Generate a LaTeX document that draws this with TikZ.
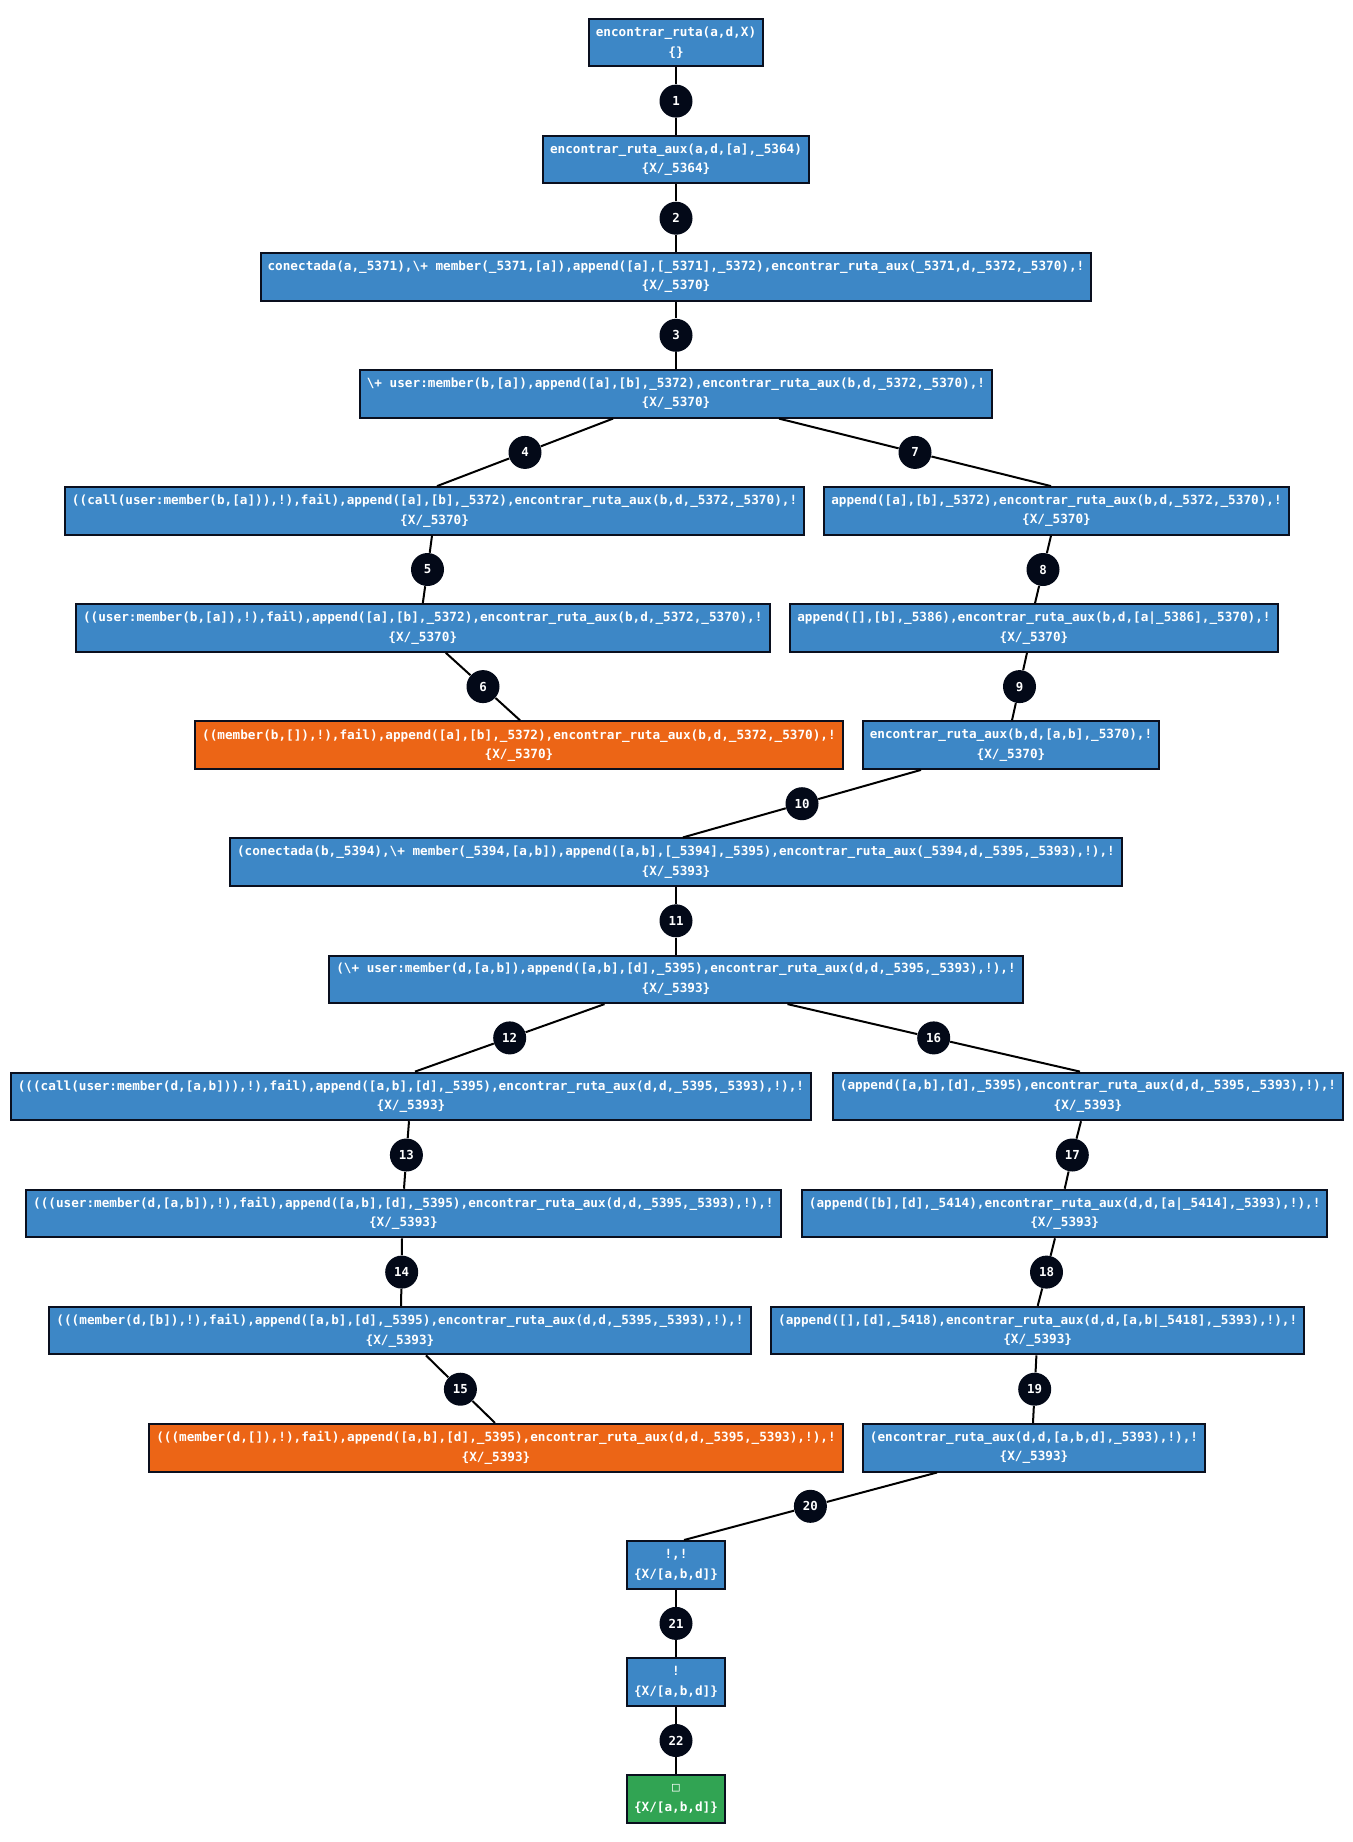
\documentclass[tikz,border=0pt]{standalone}
\usepackage{fontspec}
\setmonofont{DejaVu Sans Mono}
\usetikzlibrary{calc}

\definecolor{boxblue}{HTML}{3D87C6}
\definecolor{boxorange}{HTML}{EC6516}
\definecolor{boxgreen}{HTML}{31A453}
\definecolor{stepfill}{HTML}{030918}
\definecolor{frameline}{HTML}{0A0F1E}

\newcommand{\treefont}{\ttfamily\bfseries\fontsize{6.34pt}{9.75pt}\selectfont}
\newcommand{\stepfont}{\ttfamily\bfseries\fontsize{6.2pt}{7pt}\selectfont}

\begin{document}
\begin{tikzpicture}[x=0.5pt,y=-0.5pt,
  goal/.style={draw=frameline, line width=1pt, fill=boxblue, text=white,
    font=\treefont, align=center, inner xsep=3.5pt, inner ysep=0pt,
    minimum height=23.8pt},
  failgoal/.style={goal, fill=boxorange},
  donegoal/.style={goal, fill=boxgreen},
  stepnum/.style={circle, fill=stepfill, text=white, font=\stepfont,
    inner sep=0pt, minimum size=16.5pt},
  link/.style={draw=black, line width=1pt}]

\fill[white] (0,0) rectangle (1353,1842);
\useasboundingbox (0,0) rectangle (1353,1842);

% resolution goals
\node[goal] (n0) at (676,42.5) {encontrar\_ruta(a,d,X)\\\{\}};
\node[goal] (n1) at (676,159.6) {encontrar\_ruta\_aux(a,d,[a],\_5364)\\\{X/\_5364\}};
\node[goal] (n2) at (676,276.7) {conectada(a,\_5371),\textbackslash+ member(\_5371,[a]),append([a],[\_5371],\_5372),encontrar\_ruta\_aux(\_5371,d,\_5372,\_5370),!\\\{X/\_5370\}};
\node[goal] (n3) at (676,393.8) {\textbackslash+ user:member(b,[a]),append([a],[b],\_5372),encontrar\_ruta\_aux(b,d,\_5372,\_5370),!\\\{X/\_5370\}};
\node[goal] (n4l) at (434.6,510.9) {((call(user:member(b,[a])),!),fail),append([a],[b],\_5372),encontrar\_ruta\_aux(b,d,\_5372,\_5370),!\\\{X/\_5370\}};
\node[goal] (n4r) at (1056.5,510.9) {append([a],[b],\_5372),encontrar\_ruta\_aux(b,d,\_5372,\_5370),!\\\{X/\_5370\}};
\node[goal] (n5l) at (422.8,628) {((user:member(b,[a]),!),fail),append([a],[b],\_5372),encontrar\_ruta\_aux(b,d,\_5372,\_5370),!\\\{X/\_5370\}};
\node[goal] (n5r) at (1034,628) {append([],[b],\_5386),encontrar\_ruta\_aux(b,d,[a|\_5386],\_5370),!\\\{X/\_5370\}};
\node[failgoal] (n6l) at (519,745.1) {((member(b,[]),!),fail),append([a],[b],\_5372),encontrar\_ruta\_aux(b,d,\_5372,\_5370),!\\\{X/\_5370\}};
\node[goal] (n6r) at (1011,745.1) {encontrar\_ruta\_aux(b,d,[a,b],\_5370),!\\\{X/\_5370\}};
\node[goal] (n7) at (676,862.2) {(conectada(b,\_5394),\textbackslash+ member(\_5394,[a,b]),append([a,b],[\_5394],\_5395),encontrar\_ruta\_aux(\_5394,d,\_5395,\_5393),!),!\\\{X/\_5393\}};
\node[goal] (n8) at (676,979.3) {(\textbackslash+ user:member(d,[a,b]),append([a,b],[d],\_5395),encontrar\_ruta\_aux(d,d,\_5395,\_5393),!),!\\\{X/\_5393\}};
\node[goal] (n9l) at (411,1096.4) {(((call(user:member(d,[a,b])),!),fail),append([a,b],[d],\_5395),encontrar\_ruta\_aux(d,d,\_5395,\_5393),!),!\\\{X/\_5393\}};
\node[goal] (n9r) at (1088,1096.4) {(append([a,b],[d],\_5395),encontrar\_ruta\_aux(d,d,\_5395,\_5393),!),!\\\{X/\_5393\}};
\node[goal] (n10l) at (403.4,1213.5) {(((user:member(d,[a,b]),!),fail),append([a,b],[d],\_5395),encontrar\_ruta\_aux(d,d,\_5395,\_5393),!),!\\\{X/\_5393\}};
\node[goal] (n10r) at (1064.7,1213.5) {(append([b],[d],\_5414),encontrar\_ruta\_aux(d,d,[a|\_5414],\_5393),!),!\\\{X/\_5393\}};
\node[goal] (n11l) at (400,1330.6) {(((member(d,[b]),!),fail),append([a,b],[d],\_5395),encontrar\_ruta\_aux(d,d,\_5395,\_5393),!),!\\\{X/\_5393\}};
\node[goal] (n11r) at (1037.7,1330.6) {(append([],[d],\_5418),encontrar\_ruta\_aux(d,d,[a,b|\_5418],\_5393),!),!\\\{X/\_5393\}};
\node[failgoal] (n12l) at (496,1447.7) {(((member(d,[]),!),fail),append([a,b],[d],\_5395),encontrar\_ruta\_aux(d,d,\_5395,\_5393),!),!\\\{X/\_5393\}};
\node[goal] (n12r) at (1034,1447.7) {(encontrar\_ruta\_aux(d,d,[a,b,d],\_5393),!),!\\\{X/\_5393\}};
\node[goal] (n13) at (676,1564.8) {!,!\\\{X/[a,b,d]\}};
\node[goal] (n14) at (676,1681.9) {!\\\{X/[a,b,d]\}};
\node[donegoal] (n15) at (676,1799) {□\\\{X/[a,b,d]\}};

% numbered resolution steps
\node[stepnum] (s1) at (676,101.1) {1};
\node[stepnum] (s2) at (676,218.2) {2};
\node[stepnum] (s3) at (676,335.3) {3};
\node[stepnum] (s4) at (525,452.4) {4};
\node[stepnum] (s7) at (915,452.4) {7};
\node[stepnum] (s5) at (427.5,569.5) {5};
\node[stepnum] (s8) at (1043,569.5) {8};
\node[stepnum] (s6) at (483,686.6) {6};
\node[stepnum] (s9) at (1019.5,686.6) {9};
\node[stepnum] (s10) at (802,803.7) {10};
\node[stepnum] (s11) at (676,920.8) {11};
\node[stepnum] (s12) at (509.7,1037.9) {12};
\node[stepnum] (s16) at (933.7,1037.9) {16};
\node[stepnum] (s13) at (406.4,1155) {13};
\node[stepnum] (s17) at (1072.3,1155) {17};
\node[stepnum] (s14) at (401.7,1272.1) {14};
\node[stepnum] (s18) at (1046.5,1272.1) {18};
\node[stepnum] (s15) at (460.4,1389.2) {15};
\node[stepnum] (s19) at (1034.7,1389.2) {19};
\node[stepnum] (s20) at (810.4,1506.3) {20};
\node[stepnum] (s21) at (676,1623.4) {21};
\node[stepnum] (s22) at (676,1740.5) {22};

% connectors
\draw[link] (n0) -- (s1) -- (n1);
\draw[link] (n1) -- (s2) -- (n2);
\draw[link] (n2) -- (s3) -- (n3);
\draw[link] ($(n3.south)+(-63,0)$) -- (s4) -- ($(n4l.north)+(2.4,0)$);
\draw[link] ($(n3.south)+(103,0)$) -- (s7) -- ($(n4r.north)+(-5.5,0)$);
\draw[link] ($(n4l.south)+(-2.6,0)$) -- (s5) -- (n5l.north);
\draw[link] ($(n4r.south)+(-5.5,0)$) -- (s8) -- ($(n5r.north)+(1,0)$);
\draw[link] ($(n5l.south)+(23,0)$) -- (s6) -- ($(n6l.north)+(1,0)$);
\draw[link] ($(n5r.south)+(-7,0)$) -- (s9) -- ($(n6r.north)+(1,0)$);
\draw[link] ($(n6r.south)+(-90,0)$) -- (s10) -- ($(n7.north)+(7,0)$);
\draw[link] (n7) -- (s11) -- (n8);
\draw[link] ($(n8.south)+(-71.5,0)$) -- (s12) -- ($(n9l.north)+(4,0)$);
\draw[link] ($(n8.south)+(111.5,0)$) -- (s16) -- ($(n9r.north)+(-8,0)$);
\draw[link] ($(n9l.south)+(-2,0)$) -- (s13) -- ($(n10l.north)+(0.6,0)$);
\draw[link] ($(n9r.south)+(-7,0)$) -- (s17) -- (n10r.north);
\draw[link] ($(n10l.south)+(-1.4,0)$) -- (s14) -- ($(n11l.north)+(1,0)$);
\draw[link] ($(n10r.south)+(-9.7,0)$) -- (s18) -- (n11r.north);
\draw[link] ($(n11l.south)+(26,0)$) -- (s15) -- ($(n12l.north)+(-1,0)$);
\draw[link] ($(n11r.south)+(-1.3,0)$) -- (s19) -- ($(n12r.north)+(-1,0)$);
\draw[link] ($(n12r.south)+(-97,0)$) -- (s20) -- ($(n13.north)+(8,0)$);
\draw[link] (n13) -- (s21) -- (n14);
\draw[link] (n14) -- (s22) -- (n15);
\end{tikzpicture}
\end{document}
